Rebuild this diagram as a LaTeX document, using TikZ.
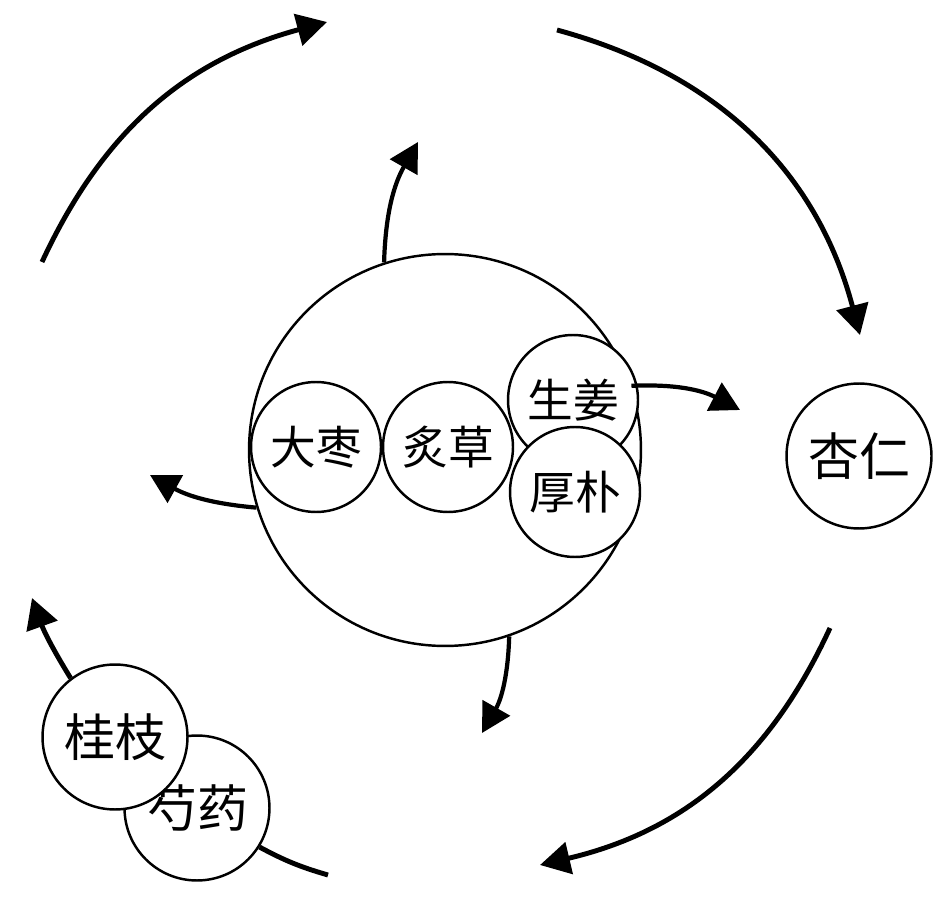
\documentclass[tikz,border=0pt]{standalone}
\usepackage{fontspec}
\newfontfamily\cjk{Noto Sans CJK SC}
\usetikzlibrary{arrows.meta}
\tikzset{herb/.style={circle,draw,fill=white,line width=1.4pt,inner sep=0pt,minimum size=2.6cm,font=\cjk\fontsize{26}{30}\selectfont}}
\tikzset{herbout/.style={herb,minimum size=2.9cm,font=\cjk\fontsize{29}{33}\selectfont}}
\tikzset{cyclearrow/.style={line width=2.8pt,-{Triangle[length=0.6cm,width=0.64cm]}}}
\tikzset{outflow/.style={line width=2.4pt,-{Triangle[length=0.58cm,width=0.62cm]}}}

\begin{document}
\begin{tikzpicture}[x=0.02cm,y=0.02cm]
\useasboundingbox (0,0) rectangle (946,900);
\node[circle,draw,line width=1.4pt,minimum size=7.84cm] (fang) at (445,450) {};
\node[herb] (dazao) at (316,453) {大枣};
\node[herb] (zhicao) at (448,453) {炙草};
\node[herb] (shengjiang) at (573,500) {生姜};
\node[herb] (houpo) at (575,408) {厚朴};
\node[herbout] (xingren) at (859,444) {杏仁};
\node[herbout] (shaoyao) at (197,92) {芍药};
\node[herbout] (guizhi) at (115,163) {桂枝};
\coordinate (a1s) at (42,638);
\coordinate (a1e) at (327,878);
\coordinate (a2s) at (557,870);
\coordinate (a2e) at (860,565);
\coordinate (a3s) at (830,272);
\coordinate (a3e) at (540,35);
\coordinate (a4s) at (328,25);
\coordinate (a5e) at (32,302);
\coordinate (up) at (418,758);
\coordinate (right) at (740,490);
\coordinate (left) at (150,425);
\coordinate (down) at (482,167);
\draw[cyclearrow] (a1s) to[bend left=25] (a1e);
\draw[cyclearrow] (a2s) to[bend left=30] (a2e);
\draw[cyclearrow] (a3s) to[bend left=26] (a3e);
\draw[line width=2.8pt] (a4s) to[bend left=6] (shaoyao.-32);
\draw[cyclearrow] (guizhi.127) to[bend left=6] (a5e);
%inner
\draw[outflow] (fang.108) to[bend left=14] (up);
\draw[outflow] (fang.19) to[bend left=15] (right);
\draw[outflow] (fang.197) to[bend left=12] (left);
\draw[outflow] (fang.289) to[bend left=14] (down);
\end{tikzpicture}
\end{document}
